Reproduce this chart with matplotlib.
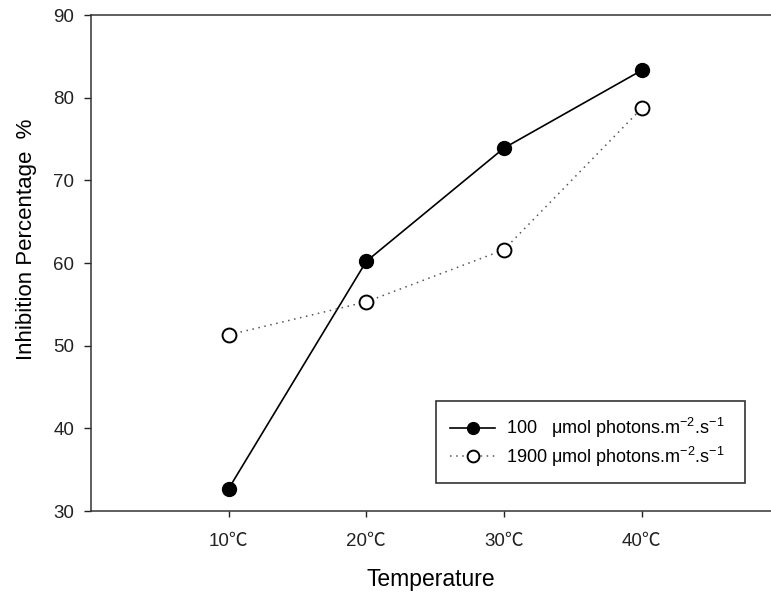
import matplotlib
matplotlib.use("Agg")
import matplotlib.pyplot as plt

# font setup: Arial-like text, CJK fallback for the degree-celsius sign
plt.rcParams['font.family'] = ['Liberation Sans', 'Noto Sans CJK SC', 'DejaVu Sans']
plt.rcParams['mathtext.fontset'] = 'custom'
plt.rcParams['mathtext.rm'] = 'Liberation Sans'
plt.rcParams['mathtext.it'] = 'Liberation Sans'

# data
temps = [1, 2, 3, 4]
temp_labels = ["10℃", "20℃", "30℃", "40℃"]
low_light = [32.7, 60.2, 73.9, 83.3]
high_light = [51.3, 55.3, 61.6, 78.7]
yticks = [30, 40, 50, 60, 70, 80, 90]

fig = plt.figure(figsize=(7.71, 5.99), dpi=100)
ax = fig.add_axes([91 / 771, 88 / 599, 1 - 91 / 771, 496 / 599])

# trailing spaces give the legend the same right-hand gap as the original
ax.plot(temps, low_light, color='black', lw=1.2, marker='o', ms=10,
        mfc='black', mec='black',
        label="100   μmol photons.m$^{-2}$.s$^{-1}$  ")
ax.plot(temps, high_light, color='#555555', lw=1.1, ls=(0, (1, 3)), marker='o', ms=10,
        mfc='white', mec='black', mew=1.4,
        label="1900 μmol photons.m$^{-2}$.s$^{-1}$  ")

ax.set_xlim(0, 4.94)
ax.set_ylim(30, 90)
ax.set_xticks(temps)
ax.set_xticklabels(temp_labels, fontsize=13.5)
ax.set_yticks(yticks)
ax.tick_params(axis='y', labelsize=13.5, direction='out', length=5, width=1,
               colors='#222222', pad=7)
ax.tick_params(axis='x', direction='out', length=4, width=1, colors='#222222', pad=12)

for side in ['left', 'bottom', 'top']:
    ax.spines[side].set_linewidth(1.1)
    ax.spines[side].set_color('#333333')
ax.spines['right'].set_visible(False)

ax.set_xlabel("Temperature", fontsize=16.5, labelpad=13)
ax.set_ylabel("Inhibition Percentage  %", fontsize=16)
# the original label sits a bit above the axis middle
ax.yaxis.set_label_coords(-0.079, 0.548)

leg = ax.legend(loc='lower right', bbox_to_anchor=(745 / 771, 116 / 599),
                bbox_transform=fig.transFigure, borderaxespad=0, fontsize=13,
                fancybox=False, framealpha=1, edgecolor='#333333',
                handlelength=2.5, handletextpad=0.6, borderpad=0.8,
                labelspacing=0.25, markerscale=0.85)
leg.get_frame().set_linewidth(1.2)

plt.savefig("out.png", dpi=100)
plt.close()
